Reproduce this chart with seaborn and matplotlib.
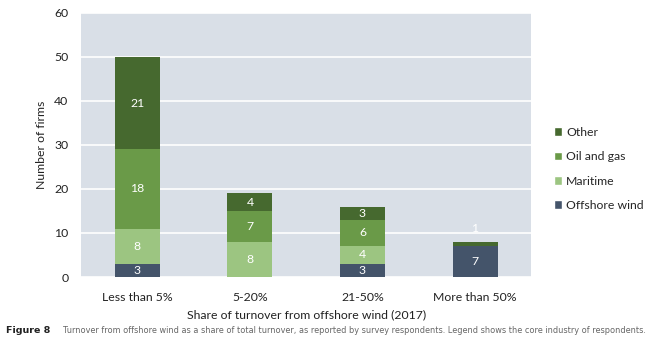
import matplotlib
matplotlib.use("Agg")
import matplotlib.pyplot as plt
import seaborn as sns
import numpy as np
import pandas as pd
from matplotlib.patches import Patch

categories = ["Less than 5%", "5-20%", "21-50%", "More than 50%"]
series_names = ["Offshore wind", "Maritime", "Oil and gas", "Other"]
offshore_wind = [3, 0, 3, 7]
maritime = [8, 8, 4, 0]
oil_and_gas = [18, 7, 6, 0]
other = [21, 4, 3, 1]
series_values = [offshore_wind, maritime, oil_and_gas, other]
colors = ["#44546a", "#9cc581", "#6a9a48", "#46692f"]

sns.set_theme(style="white")
plt.rcParams['font.family'] = ['Lato', 'DejaVu Sans']

fig = plt.figure(figsize=(6.7, 3.48), dpi=100)
ax = fig.add_axes([0.121, 0.204, 0.672, 0.759])
ax.set_facecolor("#d9dfe7")

bottom = np.zeros(len(categories))
for name, vals, col in zip(series_names, series_values, colors):
    df = pd.DataFrame({"cat": categories, "val": vals})
    sns.barplot(data=df, x="cat", y="val", bottom=bottom, color=col, width=0.4,
                ax=ax, saturation=1, edgecolor="none", linewidth=0)
    for i, v in enumerate(vals):
        if v > 0:
            if v < 2:
                y = bottom[i] + v + 3
            else:
                y = bottom[i] + v / 2
            ax.text(i, y, str(v), ha="center", va="center", color="white", fontsize=8.8)
    bottom = bottom + np.array(vals)

ax.set_ylim(0, 60)
ax.set_xlim(-0.5, 3.5)
ax.set_yticks(range(0, 61, 10))
ax.grid(axis="y", color="white", linewidth=1.2)
ax.set_axisbelow(True)
for s in ax.spines.values():
    s.set_visible(False)
ax.tick_params(axis="both", length=0, labelsize=8.8, colors="#222222")
ax.tick_params(axis="y", pad=9)
ax.tick_params(axis="x", pad=11)
ax.set_ylabel("Number of firms", fontsize=8.8, color="#222222", labelpad=5)
ax.set_xlabel("Share of turnover from offshore wind (2017)", fontsize=8.8, color="#222222", labelpad=4)

handles = [Patch(facecolor=c, label=n) for n, c in zip(series_names, colors)][::-1]
fig.legend(handles=handles, loc="center left", bbox_to_anchor=(0.81, 0.515), frameon=False,
           fontsize=8.8, handlelength=0.7, handleheight=0.7, handletextpad=0.3, labelspacing=1.1)

fig.text(0.009, 0.043, "Figure 8", fontsize=6.8, fontweight="bold", color="#222222",
         family=['Liberation Sans Narrow', 'DejaVu Sans'])
fig.text(0.094, 0.043, "Turnover from offshore wind as a share of total turnover, as reported by survey respondents. Legend shows the core industry of respondents.",
         fontsize=5.85, color="#666666", family=['Liberation Sans Narrow', 'DejaVu Sans'])

fig.savefig("out.png", dpi=100, facecolor="white")
